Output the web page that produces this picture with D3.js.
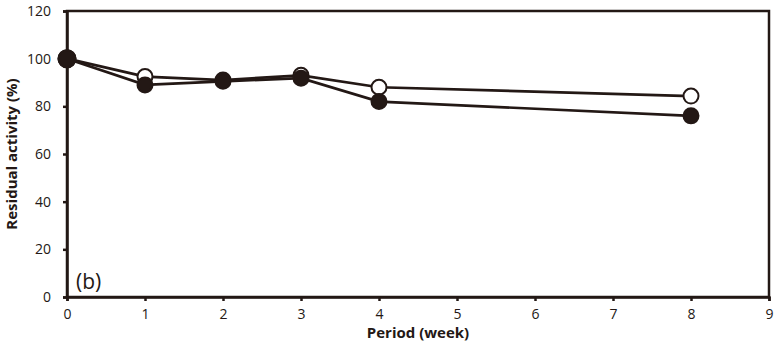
<!DOCTYPE html>
<html>
<head>
<meta charset="utf-8">
<script src="https://cdn.jsdelivr.net/npm/d3@7"></script>
<style>
  body { margin: 0; background: #fff; }
  svg { display: block; }
</style>
</head>
<body>
<div id="chart"></div>
<script>
// data
const weeks = [0, 1, 2, 3, 4, 8];
const openSeries = [100, 92.5, 91, 93, 88, 84.3];
const filledSeries = [100, 89, 90.5, 91.8, 82, 76];
const xTicks = [0, 1, 2, 3, 4, 5, 6, 7, 8, 9];
const yTicks = [0, 20, 40, 60, 80, 100, 120];

const width = 780, height = 346;
const margin = { top: 11, right: 11, bottom: 49, left: 67 };
const ink = "#231815";
const font = "'Open Sans', 'DejaVu Sans', sans-serif";

const svg = d3.select("#chart").append("svg")
  .attr("width", width)
  .attr("height", height);

const x = d3.scaleLinear().domain([0, 9]).range([margin.left, width - margin.right]);
const y = d3.scaleLinear().domain([0, 120]).range([height - margin.bottom, margin.top]);

// frame
svg.append("rect")
  .attr("x", x(0)).attr("y", y(120))
  .attr("width", x(9) - x(0)).attr("height", y(0) - y(120))
  .attr("fill", "none").attr("stroke", ink).attr("stroke-width", 2.5);

const xAxis = svg.append("g")
  .attr("transform", `translate(0,${y(0)})`)
  .call(d3.axisBottom(x).tickValues(xTicks).tickSize(4).tickPadding(8).tickFormat(d3.format("d")));

const yAxis = svg.append("g")
  .attr("transform", `translate(${x(0)},0)`)
  .call(d3.axisLeft(y).tickValues(yTicks).tickSize(4).tickPadding(12).tickFormat(d3.format("d")));

[xAxis, yAxis].forEach(g => {
  g.select(".domain").attr("stroke", ink).attr("stroke-width", 2.5);
  g.selectAll(".tick line").attr("stroke", ink).attr("stroke-width", 2.5);
  g.selectAll(".tick text").attr("fill", ink).style("font-family", font).style("font-size", "14px");
});

const line = d3.line().x((d, i) => x(weeks[i])).y(d => y(d));

function drawSeries(vals, fill) {
  svg.append("path")
    .datum(vals)
    .attr("d", line)
    .attr("fill", "none")
    .attr("stroke", ink)
    .attr("stroke-width", 2.7);
  svg.append("g").selectAll("circle")
    .data(vals)
    .join("circle")
    .attr("cx", (d, i) => x(weeks[i]))
    .attr("cy", d => y(d))
    .attr("r", (d, i) => i === 0 ? 8.5 : 7.5)
    .attr("fill", fill)
    .attr("stroke", ink)
    .attr("stroke-width", 2);
}

drawSeries(openSeries, "#fff");
drawSeries(filledSeries, ink);

// titles
svg.append("text")
  .attr("x", (x(0) + x(9)) / 2)
  .attr("y", 338)
  .attr("text-anchor", "middle")
  .attr("fill", ink)
  .style("font-family", font).style("font-size", "15px").style("font-weight", "bold")
  .text("Period (week)");

svg.append("text")
  .attr("transform", `translate(17,${(y(0) + y(120)) / 2}) rotate(-90)`)
  .attr("text-anchor", "middle")
  .attr("fill", ink)
  .style("font-family", font).style("font-size", "15px").style("font-weight", "bold")
  .text("Residual activity (%)");

svg.append("text")
  .attr("x", 76)
  .attr("y", 289)
  .attr("fill", ink)
  .style("font-family", font).style("font-size", "21px")
  .text("(b)");
</script>
</body>
</html>
